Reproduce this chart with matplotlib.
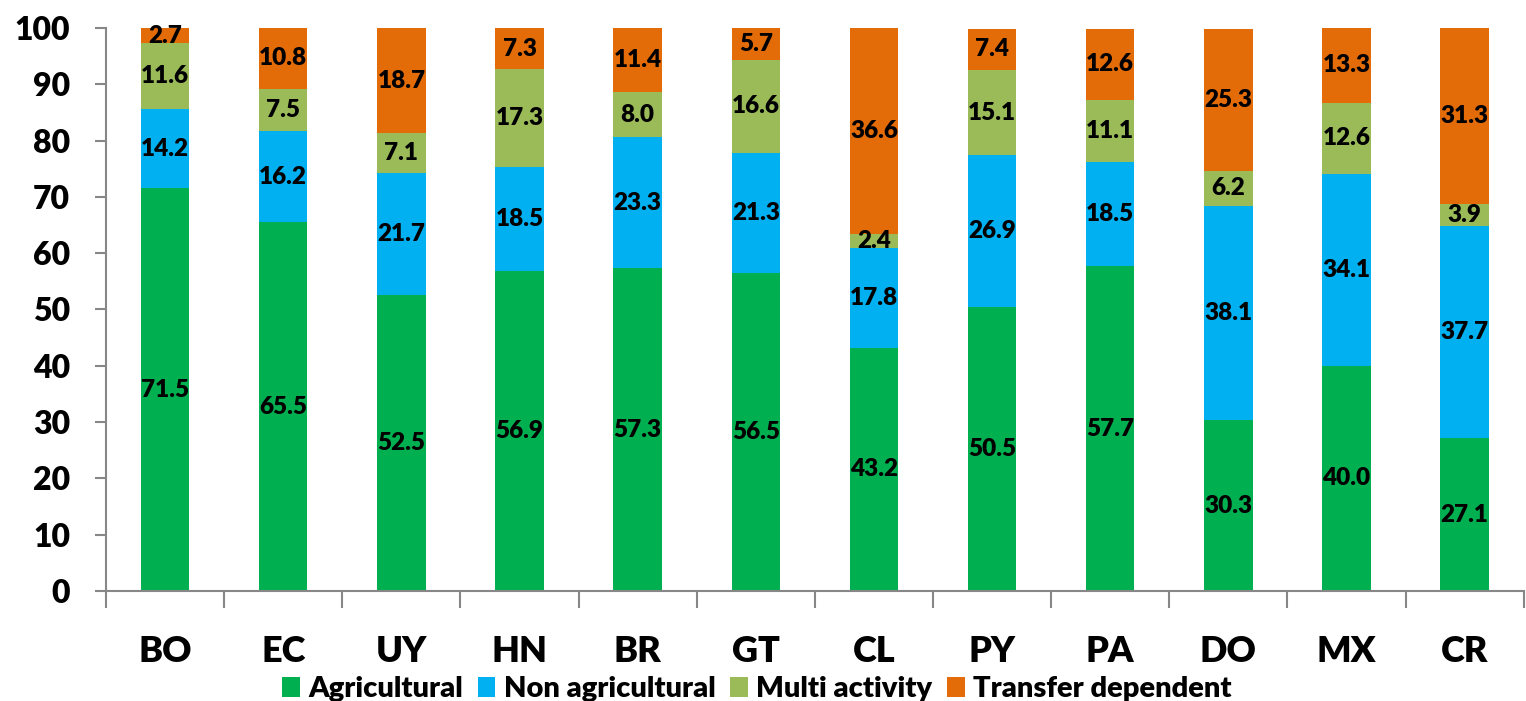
import matplotlib.pyplot as plt
import numpy as np

plt.rcParams['font.family'] = ['Lato', 'DejaVu Sans']
plt.rcParams['font.weight'] = 'heavy'

paises = ["BO", "EC", "UY", "HN", "BR", "GT", "CL", "PY", "PA", "DO", "MX", "CR"]
agricola = [71.5, 65.5, 52.5, 56.9, 57.3, 56.5, 43.2, 50.5, 57.7, 30.3, 40.0, 27.1]
no_agricola = [14.2, 16.2, 21.7, 18.5, 23.3, 21.3, 17.8, 26.9, 18.5, 38.1, 34.1, 37.7]
multi = [11.6, 7.5, 7.1, 17.3, 8.0, 16.6, 2.4, 15.1, 11.1, 6.2, 12.6, 3.9]
transfer = [2.7, 10.8, 18.7, 7.3, 11.4, 5.7, 36.6, 7.4, 12.6, 25.3, 13.3, 31.3]

series = [
    ("Agricultural", agricola, "#00AF50"),
    ("Non agricultural", no_agricola, "#00B0F0"),
    ("Multi activity", multi, "#9BBB59"),
    ("Transfer dependent", transfer, "#E36C09"),
]

fig = plt.figure(figsize=(15.26, 7.01), dpi=100)
ax = fig.add_axes([0.0695, 0.157, 0.929, 0.803])

x = np.arange(len(paises))
base = np.zeros(len(paises))
for nombre, vals, color in series:
    vals = np.array(vals)
    ax.bar(x, vals, 0.41, bottom=base, color=color, label=nombre, zorder=2)
    for xi, b, v in zip(x, base, vals):
        ax.text(xi, b + v / 2, f"{v:.1f}", ha="center", va="center", fontsize=17.5,
                fontweight="heavy", color="black", zorder=3)
    base = base + vals

ax.set_xlim(-0.5, len(paises) - 0.5)
ax.set_ylim(0, 100)
ax.set_yticks(range(0, 101, 10))
ax.set_yticklabels([str(v) for v in range(0, 101, 10)], fontsize=23, fontweight="heavy")
ax.set_xticks(x)
ax.set_xticklabels(paises, fontsize=26, fontweight="heavy")
ax.set_xticks(np.arange(-0.5, len(paises), 1), minor=True)
ax.tick_params(axis="x", which="major", length=0, pad=32)
ax.tick_params(axis="x", which="minor", length=12, color="#878787", width=1.5)
ax.tick_params(axis="y", length=8, color="#878787", width=1.5, pad=18)

for s in ["top", "right"]:
    ax.spines[s].set_visible(False)
for s in ["left", "bottom"]:
    ax.spines[s].set_color("#878787")
    ax.spines[s].set_linewidth(1.5)

fig.legend(*ax.get_legend_handles_labels(), loc="center", bbox_to_anchor=(0.496, 0.017),
           ncol=4, frameon=False, prop={"size": 21, "weight": "heavy"},
           handlelength=0.6, handleheight=0.7, handletextpad=0.3, columnspacing=0.5,
           borderaxespad=0, borderpad=0)

plt.savefig("out.png", dpi=100)
